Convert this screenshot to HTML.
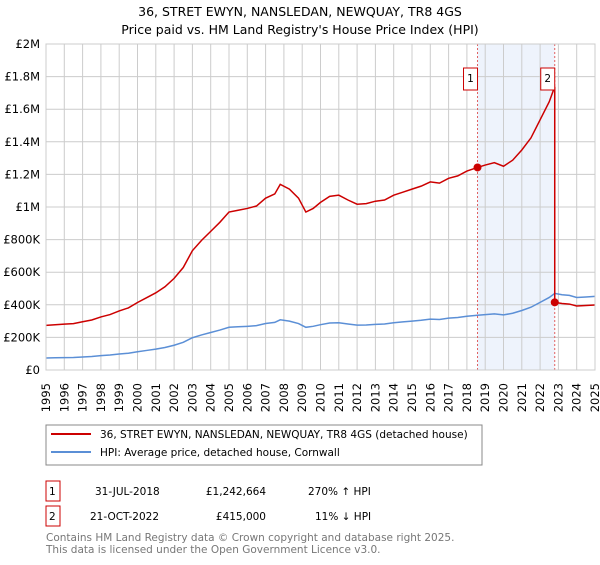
<!DOCTYPE html>
<html><head><meta charset="utf-8"><style>
body{margin:0;background:#fff;font-family:"Liberation Sans","DejaVu Sans",sans-serif;}
svg text{font-family:"DejaVu Sans","Liberation Sans",sans-serif;}
</style></head><body>
<svg id="chart" width="600" height="560" viewBox="0 0 600 560" xmlns="http://www.w3.org/2000/svg">
<text x="300" y="16" text-anchor="middle" font-size="12.5">36, STRET EWYN, NANSLEDAN, NEWQUAY, TR8 4GS</text>
<text x="300" y="34" text-anchor="middle" font-size="12.5">Price paid vs. HM Land Registry's House Price Index (HPI)</text>
<g id="plot"></g>
<rect x="46" y="425" width="436" height="40" fill="#fff" stroke="#888"/>
<line x1="51" y1="434" x2="91" y2="434" stroke="#cc0000" stroke-width="2"/>
<text x="100" y="438" font-size="10.5">36, STRET EWYN, NANSLEDAN, NEWQUAY, TR8 4GS (detached house)</text>
<line x1="51" y1="452" x2="91" y2="452" stroke="#5b8fd6" stroke-width="2"/>
<text x="100" y="456" font-size="10.5">HPI: Average price, detached house, Cornwall</text>
<g font-size="10.5">
<rect x="46" y="481" width="14" height="20" fill="#fff" stroke="#cc0000"/>
<text x="49" y="495">1</text><text x="95" y="495">31-JUL-2018</text><text x="266" y="495" text-anchor="end">£1,242,664</text><text x="308" y="495">270% ↑ HPI</text>
</g>
<g font-size="10.5">
<rect x="46" y="506" width="14" height="20" fill="#fff" stroke="#cc0000"/>
<text x="49" y="520">2</text><text x="90" y="520">21-OCT-2022</text><text x="266" y="520" text-anchor="end">£415,000</text><text x="315" y="520">11% ↓ HPI</text>
</g>
<text x="46" y="541" font-size="10.5" fill="#777">Contains HM Land Registry data © Crown copyright and database right 2025.</text>
<text x="46" y="553" font-size="10.5" fill="#777">This data is licensed under the Open Government Licence v3.0.</text>
</svg>
<script>
const hpiYears=[1995,1995.5,1996,1996.5,1997,1997.5,1998,1998.5,1999,1999.5,2000,2000.5,2001,2001.5,2002,2002.5,2003,2003.5,2004,2004.5,2005,2005.5,2006,2006.5,2007,2007.5,2007.8,2008.3,2008.8,2009.2,2009.6,2010,2010.5,2011,2011.5,2012,2012.5,2013,2013.5,2014,2014.5,2015,2015.5,2016,2016.5,2017,2017.5,2018,2018.58,2019,2019.5,2020,2020.5,2021,2021.5,2022,2022.5,2022.8,2023.2,2023.6,2024,2024.5,2025];
const hpiValues=[74000,75000,76000,77000,80000,83000,88000,92000,98000,103000,112000,120000,128000,138000,152000,170000,198000,215000,230000,245000,262000,265000,268000,272000,285000,292000,308000,300000,285000,262000,268000,278000,288000,290000,282000,275000,276000,280000,282000,290000,295000,300000,305000,312000,310000,318000,322000,330000,336000,340000,344000,338000,348000,365000,385000,415000,445000,470000,462000,458000,445000,448000,452000];
const sale1=[2018.58,1242664];
const sale2=[2022.8,415000];
const yTicks=[0,200000,400000,600000,800000,1000000,1200000,1400000,1600000,1800000,2000000];
const yTickLabels=["£0","£200K","£400K","£600K","£800K","£1M","£1.2M","£1.4M","£1.6M","£1.8M","£2M"];
const xTicks=[1995,1996,1997,1998,1999,2000,2001,2002,2003,2004,2005,2006,2007,2008,2009,2010,2011,2012,2013,2014,2015,2016,2017,2018,2019,2020,2021,2022,2023,2024,2025];
const L=46,R=595,T=44,B=370;
const xs=y=>L+(y-1995)/30*(R-L);
const ys=v=>B-v/2000000*(B-T);
const g=document.getElementById('plot');
const NS='http://www.w3.org/2000/svg';
function mk(t,a){const e=document.createElementNS(NS,t);for(const k in a)e.setAttribute(k,a[k]);g.appendChild(e);return e;}
let sh=mk('rect',{x:xs(sale1[0]),y:T,width:xs(sale2[0])-xs(sale1[0]),height:B-T,fill:'#eef3fc'});


xTicks.forEach(t=>{let l=mk('line',{x1:xs(t),x2:xs(t),y1:T,y2:B,stroke:'#ccc'});


const px=xs(t)+4;
let tx=mk('text',{x:px,y:383,'text-anchor':'end','font-size':'11.5',transform:'rotate(-90 '+px+' 383)'});tx.textContent=t;

});
yTicks.forEach((t,i)=>{let l=mk('line',{x1:L,x2:R,y1:ys(t),y2:ys(t),stroke:'#ccc'});


let tx=mk('text',{x:40,y:ys(t)+4,'text-anchor':'end','font-size':'11.5'});tx.textContent=yTickLabels[i];

});
[sale1,sale2].forEach(s=>{let l=mk('line',{x1:xs(s[0]),x2:xs(s[0]),y1:T,y2:B,stroke:'#e06060','stroke-dasharray':'2,2'});

});
const hpiAt=y=>{for(let i=1;i<hpiYears.length;i++)if(y<=hpiYears[i]){const f=(y-hpiYears[i-1])/(hpiYears[i]-hpiYears[i-1]);return hpiValues[i-1]+f*(hpiValues[i]-hpiValues[i-1]);}return hpiValues[hpiValues.length-1];};
const r1=sale1[1]/hpiAt(sale1[0]),r2=sale2[1]/hpiAt(sale2[0]);
let hp=hpiYears.map((y,i)=>xs(y)+','+ys(hpiValues[i])).join(' ');
let h=mk('polyline',{points:hp,fill:'none',stroke:'#5b8fd6','stroke-width':1.5});


let rp=[];
hpiYears.forEach((y,i)=>{if(y<=sale2[0])rp.push(xs(y)+','+ys(hpiValues[i]*r1));});
rp.push(xs(sale2[0])+','+ys(sale2[1]));
hpiYears.forEach((y,i)=>{if(y>sale2[0])rp.push(xs(y)+','+ys(hpiValues[i]*r2));});
let r=mk('polyline',{points:rp.join(' '),fill:'none',stroke:'#cc0000','stroke-width':1.5});


[sale1,sale2].forEach((s,i)=>{let c=mk('circle',{cx:xs(s[0]),cy:ys(s[1]),r:4,fill:'#cc0000'});


let b=mk('rect',{x:xs(s[0])-14,y:68,width:14,height:22,fill:'#fff',stroke:'#cc0000'});


let t=mk('text',{x:xs(s[0])-7,y:82,'text-anchor':'middle','font-size':'10.5'});t.textContent=i+1;

});
mk('rect',{x:L,y:T,width:R-L,height:B-T,fill:'none',stroke:'#ccc'});
</script>
</body></html>
